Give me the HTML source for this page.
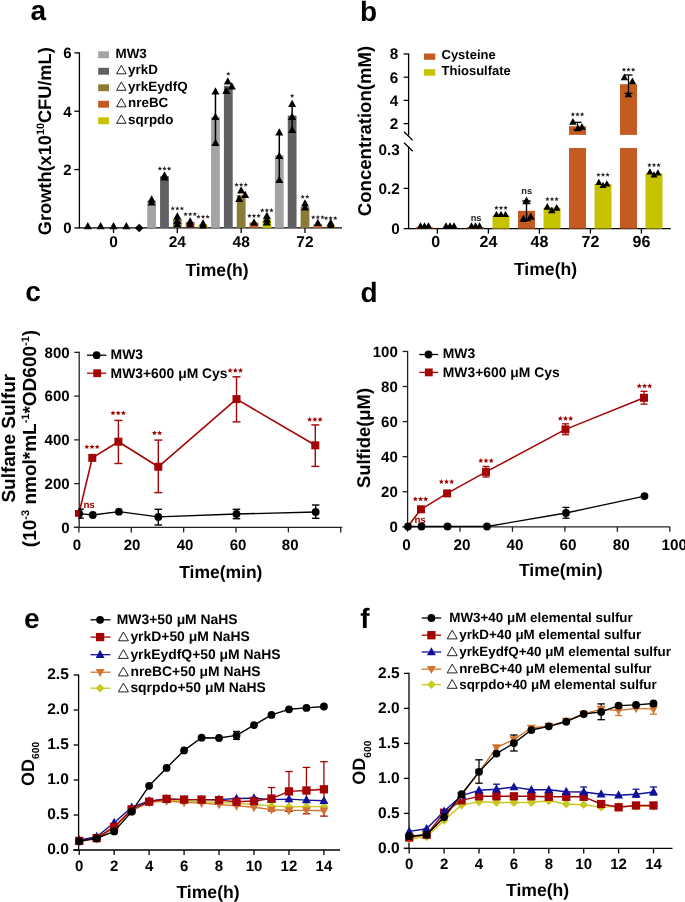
<!DOCTYPE html>
<html><head><meta charset="utf-8"><title>Figure</title>
<style>
html,body{margin:0;padding:0;background:#fff;}
body{width:685px;height:902px;overflow:hidden;}
svg{display:block;will-change:transform;}
text{font-family:"Liberation Sans", sans-serif;text-rendering:geometricPrecision;}
</style></head><body>
<svg width="685" height="902" viewBox="0 0 685 902">
<rect x="0" y="0" width="685" height="902" fill="#fff"/>
<text x="30.5" y="20" font-size="28" text-anchor="start" font-weight="bold" fill="#000">a</text>
<line x1="79.4" y1="52.3" x2="79.4" y2="228.5" stroke="#000" stroke-width="1.3"/>
<line x1="74.4" y1="227.9" x2="79.4" y2="227.9" stroke="#000" stroke-width="1.3"/>
<text x="71.6" y="233.2" font-size="15" text-anchor="end" font-weight="bold" fill="#000">0</text>
<line x1="74.4" y1="169.56" x2="79.4" y2="169.56" stroke="#000" stroke-width="1.3"/>
<text x="71.6" y="174.86" font-size="15" text-anchor="end" font-weight="bold" fill="#000">2</text>
<line x1="74.4" y1="111.22" x2="79.4" y2="111.22" stroke="#000" stroke-width="1.3"/>
<text x="71.6" y="116.52" font-size="15" text-anchor="end" font-weight="bold" fill="#000">4</text>
<line x1="74.4" y1="52.88" x2="79.4" y2="52.88" stroke="#000" stroke-width="1.3"/>
<text x="71.6" y="58.18" font-size="15" text-anchor="end" font-weight="bold" fill="#000">6</text>
<line x1="79.4" y1="227.9" x2="342" y2="227.9" stroke="#000" stroke-width="1.3"/>
<line x1="113.5" y1="227.9" x2="113.5" y2="232.9" stroke="#000" stroke-width="1.3"/>
<text x="113.5" y="247.2" font-size="15.5" text-anchor="middle" font-weight="bold" fill="#000">0</text>
<line x1="177.33" y1="227.9" x2="177.33" y2="232.9" stroke="#000" stroke-width="1.3"/>
<text x="177.33" y="247.2" font-size="15.5" text-anchor="middle" font-weight="bold" fill="#000">24</text>
<line x1="241.16" y1="227.9" x2="241.16" y2="232.9" stroke="#000" stroke-width="1.3"/>
<text x="241.16" y="247.2" font-size="15.5" text-anchor="middle" font-weight="bold" fill="#000">48</text>
<line x1="304.99" y1="227.9" x2="304.99" y2="232.9" stroke="#000" stroke-width="1.3"/>
<text x="304.99" y="247.2" font-size="15.5" text-anchor="middle" font-weight="bold" fill="#000">72</text>
<text x="217" y="276.3" font-size="17.6" text-anchor="middle" font-weight="bold" fill="#000">Time(h)</text>
<text x="51.1" y="141.2" font-size="18.2" text-anchor="middle" font-weight="bold" transform="rotate(-90 51.1 141.2)">Growth(x10<tspan font-size="10.8" dy="-6.7">10</tspan><tspan dy="6.7">CFU/mL)</tspan></text>
<rect x="98.2" y="51.3" width="10.8" height="6.9" fill="#a3a3a8"/>
<text x="115.5" y="57.6" font-size="13.4" text-anchor="start" font-weight="bold" fill="#000">MW3</text>
<rect x="98.2" y="67.8" width="10.8" height="6.9" fill="#616163"/>
<polygon points="116.6,73.8 121.35,65.4 126.1,73.8" fill="none" stroke="#222" stroke-width="1" stroke-linejoin="miter"/>
<text x="128.1" y="74.1" font-size="13.4" text-anchor="start" font-weight="bold" fill="#000">yrkD</text>
<rect x="98.2" y="84.3" width="10.8" height="6.9" fill="#8a7b38"/>
<polygon points="116.6,90.3 121.35,81.9 126.1,90.3" fill="none" stroke="#222" stroke-width="1" stroke-linejoin="miter"/>
<text x="128.1" y="90.6" font-size="13.4" text-anchor="start" font-weight="bold" fill="#000">yrkEydfQ</text>
<rect x="98.2" y="100.8" width="10.8" height="6.9" fill="#c35b22"/>
<polygon points="116.6,106.8 121.35,98.4 126.1,106.8" fill="none" stroke="#222" stroke-width="1" stroke-linejoin="miter"/>
<text x="128.1" y="107.1" font-size="13.4" text-anchor="start" font-weight="bold" fill="#000">nreBC</text>
<rect x="98.2" y="117.3" width="10.8" height="6.9" fill="#c6c200"/>
<polygon points="116.6,123.3 121.35,114.9 126.1,123.3" fill="none" stroke="#222" stroke-width="1" stroke-linejoin="miter"/>
<text x="128.1" y="123.6" font-size="13.4" text-anchor="start" font-weight="bold" fill="#000">sqrpdo</text>
<rect x="147.23" y="200.77" width="8.8" height="27.13" fill="#a3a3a8"/>
<rect x="160.08" y="176.27" width="8.8" height="51.63" fill="#616163"/>
<rect x="172.93" y="219.15" width="8.8" height="8.75" fill="#8a7b38"/>
<rect x="185.78" y="222.07" width="8.8" height="5.83" fill="#c35b22"/>
<rect x="198.63" y="224.4" width="8.8" height="3.5" fill="#c6c200"/>
<rect x="211.06" y="116.76" width="8.8" height="111.14" fill="#a3a3a8"/>
<rect x="223.91" y="85.84" width="8.8" height="142.06" fill="#616163"/>
<rect x="236.76" y="195.23" width="8.8" height="32.67" fill="#8a7b38"/>
<rect x="249.61" y="222.5" width="8.8" height="5.4" fill="#c35b22"/>
<rect x="262.46" y="219.44" width="8.8" height="8.46" fill="#c6c200"/>
<rect x="274.89" y="155.27" width="8.8" height="72.63" fill="#a3a3a8"/>
<rect x="287.74" y="115.6" width="8.8" height="112.3" fill="#616163"/>
<rect x="300.59" y="207.19" width="8.8" height="20.71" fill="#8a7b38"/>
<rect x="313.44" y="224.4" width="8.8" height="3.5" fill="#c35b22"/>
<rect x="326.29" y="225.57" width="8.8" height="2.33" fill="#c6c200"/>
<polygon points="87.8,222.08 83.8,229.28 91.8,229.28" fill="#000"/>
<polygon points="100.65,222.08 96.65,229.28 104.65,229.28" fill="#000"/>
<polygon points="113.5,222.08 109.5,229.28 117.5,229.28" fill="#000"/>
<polygon points="126.35,222.08 122.35,229.28 130.35,229.28" fill="#000"/>
<polygon points="139.2,223.65 143.45,227.9 139.2,232.15 134.95,227.9" fill="#000"/>
<polygon points="151.63,195.18 147.63,202.38 155.63,202.38" fill="#000"/>
<polygon points="151.63,198.18 147.63,205.38 155.63,205.38" fill="#000"/>
<polygon points="164.48,171.18 160.48,178.38 168.48,178.38" fill="#000"/>
<polygon points="164.48,173.18 160.48,180.38 168.48,180.38" fill="#000"/>
<polygon points="177.33,212.18 173.33,219.38 181.33,219.38" fill="#000"/>
<polygon points="177.33,216.68 173.33,223.88 181.33,223.88" fill="#000"/>
<polygon points="177.33,220.18 173.33,227.38 181.33,227.38" fill="#000"/>
<polygon points="190.18,217.18 186.18,224.38 194.18,224.38" fill="#000"/>
<polygon points="190.18,220.18 186.18,227.38 194.18,227.38" fill="#000"/>
<polygon points="203.03,219.18 199.03,226.38 207.03,226.38" fill="#000"/>
<polygon points="203.03,221.18 199.03,228.38 207.03,228.38" fill="#000"/>
<polygon points="159.88,166.3 160.49,167.76 162.07,167.89 160.86,168.92 161.23,170.46 159.88,169.63 158.53,170.46 158.9,168.92 157.69,167.89 159.27,167.76" fill="#2e2424"/>
<polygon points="164.48,166.3 165.09,167.76 166.67,167.89 165.46,168.92 165.83,170.46 164.48,169.63 163.13,170.46 163.5,168.92 162.29,167.89 163.87,167.76" fill="#2e2424"/>
<polygon points="169.08,166.3 169.69,167.76 171.27,167.89 170.06,168.92 170.43,170.46 169.08,169.63 167.73,170.46 168.1,168.92 166.89,167.89 168.47,167.76" fill="#2e2424"/>
<polygon points="172.73,206.2 173.34,207.66 174.92,207.79 173.71,208.82 174.08,210.36 172.73,209.53 171.38,210.36 171.75,208.82 170.54,207.79 172.12,207.66" fill="#2e2424"/>
<polygon points="177.33,206.2 177.94,207.66 179.52,207.79 178.31,208.82 178.68,210.36 177.33,209.53 175.98,210.36 176.35,208.82 175.14,207.79 176.72,207.66" fill="#2e2424"/>
<polygon points="181.93,206.2 182.54,207.66 184.12,207.79 182.91,208.82 183.28,210.36 181.93,209.53 180.58,210.36 180.95,208.82 179.74,207.79 181.32,207.66" fill="#2e2424"/>
<polygon points="185.58,211.9 186.19,213.36 187.77,213.49 186.56,214.52 186.93,216.06 185.58,215.23 184.23,216.06 184.6,214.52 183.39,213.49 184.97,213.36" fill="#2e2424"/>
<polygon points="190.18,211.9 190.79,213.36 192.37,213.49 191.16,214.52 191.53,216.06 190.18,215.23 188.83,216.06 189.2,214.52 187.99,213.49 189.57,213.36" fill="#2e2424"/>
<polygon points="194.78,211.9 195.39,213.36 196.97,213.49 195.76,214.52 196.13,216.06 194.78,215.23 193.43,216.06 193.8,214.52 192.59,213.49 194.17,213.36" fill="#2e2424"/>
<polygon points="198.43,214.5 199.04,215.96 200.62,216.09 199.41,217.12 199.78,218.66 198.43,217.84 197.08,218.66 197.45,217.12 196.24,216.09 197.82,215.96" fill="#2e2424"/>
<polygon points="203.03,214.5 203.64,215.96 205.22,216.09 204.01,217.12 204.38,218.66 203.03,217.84 201.68,218.66 202.05,217.12 200.84,216.09 202.42,215.96" fill="#2e2424"/>
<polygon points="207.63,214.5 208.24,215.96 209.82,216.09 208.61,217.12 208.98,218.66 207.63,217.84 206.28,218.66 206.65,217.12 205.44,216.09 207.02,215.96" fill="#2e2424"/>
<line x1="215.46" y1="91" x2="215.46" y2="142" stroke="#000" stroke-width="1.5"/>
<polygon points="215.46,87.18 211.46,94.38 219.46,94.38" fill="#000"/>
<polygon points="215.46,112.68 211.46,119.88 219.46,119.88" fill="#000"/>
<polygon points="215.46,138.68 211.46,145.88 219.46,145.88" fill="#000"/>
<polygon points="227.81,77.18 223.81,84.38 231.81,84.38" fill="#000"/>
<polygon points="231.81,82.18 227.81,89.38 235.81,89.38" fill="#000"/>
<polygon points="226.31,86.68 222.31,93.88 230.31,93.88" fill="#000"/>
<polygon points="241.16,186.18 237.16,193.38 245.16,193.38" fill="#000"/>
<polygon points="245.16,190.68 241.16,197.88 249.16,197.88" fill="#000"/>
<polygon points="239.16,194.68 235.16,201.88 243.16,201.88" fill="#000"/>
<polygon points="254.01,218.18 250.01,225.38 258.01,225.38" fill="#000"/>
<polygon points="266.86,211.68 262.86,218.88 270.86,218.88" fill="#000"/>
<polygon points="266.86,215.18 262.86,222.38 270.86,222.38" fill="#000"/>
<polygon points="266.86,218.18 262.86,225.38 270.86,225.38" fill="#000"/>
<polygon points="228.31,71.5 228.92,72.96 230.5,73.09 229.29,74.12 229.66,75.66 228.31,74.83 226.96,75.66 227.33,74.12 226.12,73.09 227.7,72.96" fill="#2e2424"/>
<polygon points="236.56,182.5 237.17,183.96 238.75,184.09 237.54,185.12 237.91,186.66 236.56,185.84 235.21,186.66 235.58,185.12 234.37,184.09 235.95,183.96" fill="#2e2424"/>
<polygon points="241.16,182.5 241.77,183.96 243.35,184.09 242.14,185.12 242.51,186.66 241.16,185.84 239.81,186.66 240.18,185.12 238.97,184.09 240.55,183.96" fill="#2e2424"/>
<polygon points="245.76,182.5 246.37,183.96 247.95,184.09 246.74,185.12 247.11,186.66 245.76,185.84 244.41,186.66 244.78,185.12 243.57,184.09 245.15,183.96" fill="#2e2424"/>
<polygon points="249.41,213.6 250.02,215.06 251.6,215.19 250.39,216.22 250.76,217.76 249.41,216.94 248.06,217.76 248.43,216.22 247.22,215.19 248.8,215.06" fill="#2e2424"/>
<polygon points="254.01,213.6 254.62,215.06 256.2,215.19 254.99,216.22 255.36,217.76 254.01,216.94 252.66,217.76 253.03,216.22 251.82,215.19 253.4,215.06" fill="#2e2424"/>
<polygon points="258.61,213.6 259.22,215.06 260.8,215.19 259.59,216.22 259.96,217.76 258.61,216.94 257.26,217.76 257.63,216.22 256.42,215.19 258,215.06" fill="#2e2424"/>
<polygon points="262.26,208.1 262.87,209.56 264.45,209.69 263.24,210.72 263.61,212.26 262.26,211.44 260.91,212.26 261.28,210.72 260.07,209.69 261.65,209.56" fill="#2e2424"/>
<polygon points="266.86,208.1 267.47,209.56 269.05,209.69 267.84,210.72 268.21,212.26 266.86,211.44 265.51,212.26 265.88,210.72 264.67,209.69 266.25,209.56" fill="#2e2424"/>
<polygon points="271.46,208.1 272.07,209.56 273.65,209.69 272.44,210.72 272.81,212.26 271.46,211.44 270.11,212.26 270.48,210.72 269.27,209.69 270.85,209.56" fill="#2e2424"/>
<line x1="279.29" y1="132" x2="279.29" y2="179" stroke="#000" stroke-width="1.5"/>
<polygon points="279.29,128.18 275.29,135.38 283.29,135.38" fill="#000"/>
<polygon points="279.29,151.68 275.29,158.88 283.29,158.88" fill="#000"/>
<polygon points="279.29,175.68 275.29,182.88 283.29,182.88" fill="#000"/>
<line x1="292.14" y1="104" x2="292.14" y2="129" stroke="#000" stroke-width="1.5"/>
<polygon points="292.14,99.68 288.14,106.88 296.14,106.88" fill="#000"/>
<polygon points="292.14,112.68 288.14,119.88 296.14,119.88" fill="#000"/>
<polygon points="292.14,125.68 288.14,132.88 296.14,132.88" fill="#000"/>
<polygon points="304.99,199.18 300.99,206.38 308.99,206.38" fill="#000"/>
<polygon points="304.99,203.18 300.99,210.38 308.99,210.38" fill="#000"/>
<polygon points="317.84,218.68 313.84,225.88 321.84,225.88" fill="#000"/>
<polygon points="330.69,218.68 326.69,225.88 334.69,225.88" fill="#000"/>
<polygon points="330.69,220.68 326.69,227.88 334.69,227.88" fill="#000"/>
<polygon points="292.14,93.5 292.75,94.96 294.33,95.09 293.12,96.12 293.49,97.66 292.14,96.83 290.79,97.66 291.16,96.12 289.95,95.09 291.53,94.96" fill="#2e2424"/>
<polygon points="302.69,194.5 303.3,195.96 304.88,196.09 303.67,197.12 304.04,198.66 302.69,197.84 301.34,198.66 301.71,197.12 300.5,196.09 302.08,195.96" fill="#2e2424"/>
<polygon points="307.29,194.5 307.9,195.96 309.48,196.09 308.27,197.12 308.64,198.66 307.29,197.84 305.94,198.66 306.31,197.12 305.1,196.09 306.68,195.96" fill="#2e2424"/>
<polygon points="313.24,215 313.85,216.46 315.43,216.59 314.22,217.62 314.59,219.16 313.24,218.34 311.89,219.16 312.26,217.62 311.05,216.59 312.63,216.46" fill="#2e2424"/>
<polygon points="317.84,215 318.45,216.46 320.03,216.59 318.82,217.62 319.19,219.16 317.84,218.34 316.49,219.16 316.86,217.62 315.65,216.59 317.23,216.46" fill="#2e2424"/>
<polygon points="322.44,215 323.05,216.46 324.63,216.59 323.42,217.62 323.79,219.16 322.44,218.34 321.09,219.16 321.46,217.62 320.25,216.59 321.83,216.46" fill="#2e2424"/>
<polygon points="326.09,215.9 326.7,217.36 328.28,217.49 327.07,218.52 327.44,220.06 326.09,219.23 324.74,220.06 325.11,218.52 323.9,217.49 325.48,217.36" fill="#2e2424"/>
<polygon points="330.69,215.9 331.3,217.36 332.88,217.49 331.67,218.52 332.04,220.06 330.69,219.23 329.34,220.06 329.71,218.52 328.5,217.49 330.08,217.36" fill="#2e2424"/>
<polygon points="335.29,215.9 335.9,217.36 337.48,217.49 336.27,218.52 336.64,220.06 335.29,219.23 333.94,220.06 334.31,218.52 333.1,217.49 334.68,217.36" fill="#2e2424"/>
<text x="360.1" y="20.5" font-size="28" text-anchor="start" font-weight="bold" fill="#000">b</text>
<line x1="408.6" y1="53.4" x2="408.6" y2="135.2" stroke="#000" stroke-width="1.3"/>
<line x1="408.6" y1="146.5" x2="408.6" y2="229.2" stroke="#000" stroke-width="1.3"/>
<line x1="404.1" y1="131.8" x2="412.7" y2="140.4" stroke="#000" stroke-width="1.3"/>
<line x1="404.1" y1="142.8" x2="412.7" y2="151.3" stroke="#000" stroke-width="1.3"/>
<line x1="403.6" y1="54" x2="408.6" y2="54" stroke="#000" stroke-width="1.3"/>
<text x="398.3" y="59.4" font-size="15.3" text-anchor="end" font-weight="bold" fill="#000">8</text>
<line x1="403.6" y1="77.2" x2="408.6" y2="77.2" stroke="#000" stroke-width="1.3"/>
<text x="398.3" y="82.6" font-size="15.3" text-anchor="end" font-weight="bold" fill="#000">6</text>
<line x1="403.6" y1="100.4" x2="408.6" y2="100.4" stroke="#000" stroke-width="1.3"/>
<text x="398.3" y="105.8" font-size="15.3" text-anchor="end" font-weight="bold" fill="#000">4</text>
<line x1="403.6" y1="123.6" x2="408.6" y2="123.6" stroke="#000" stroke-width="1.3"/>
<text x="398.3" y="129" font-size="15.3" text-anchor="end" font-weight="bold" fill="#000">2</text>
<line x1="403.6" y1="188.4" x2="408.6" y2="188.4" stroke="#000" stroke-width="1.3"/>
<text x="399.8" y="193.8" font-size="15.3" text-anchor="end" font-weight="bold" fill="#000">0.2</text>
<line x1="403.6" y1="228.6" x2="408.6" y2="228.6" stroke="#000" stroke-width="1.3"/>
<text x="399.8" y="234" font-size="15.3" text-anchor="end" font-weight="bold" fill="#000">0</text>
<text x="399.8" y="154.9" font-size="15.3" text-anchor="end" font-weight="bold" fill="#000">0.3</text>
<line x1="408.6" y1="228.6" x2="670.8" y2="228.6" stroke="#000" stroke-width="1.3"/>
<line x1="437.4" y1="228.6" x2="437.4" y2="233.6" stroke="#000" stroke-width="1.3"/>
<text x="435.7" y="247.4" font-size="16" text-anchor="middle" font-weight="bold" fill="#000">0</text>
<line x1="488.4" y1="228.6" x2="488.4" y2="233.6" stroke="#000" stroke-width="1.3"/>
<text x="488.4" y="247.4" font-size="16" text-anchor="middle" font-weight="bold" fill="#000">24</text>
<line x1="539.4" y1="228.6" x2="539.4" y2="233.6" stroke="#000" stroke-width="1.3"/>
<text x="539.4" y="247.4" font-size="16" text-anchor="middle" font-weight="bold" fill="#000">48</text>
<line x1="590.4" y1="228.6" x2="590.4" y2="233.6" stroke="#000" stroke-width="1.3"/>
<text x="590.4" y="247.4" font-size="16" text-anchor="middle" font-weight="bold" fill="#000">72</text>
<line x1="641.4" y1="228.6" x2="641.4" y2="233.6" stroke="#000" stroke-width="1.3"/>
<text x="641.4" y="247.4" font-size="16" text-anchor="middle" font-weight="bold" fill="#000">96</text>
<text x="545.5" y="274.5" font-size="17.6" text-anchor="middle" font-weight="bold" fill="#000">Time(h)</text>
<text x="371.3" y="131" font-size="18.6" text-anchor="middle" font-weight="bold" transform="rotate(-90 371.3 131)">Concentration(mM)</text>
<rect x="424" y="53.5" width="11.3" height="6.3" fill="#c35b22"/>
<text x="441.5" y="59.2" font-size="13" text-anchor="start" font-weight="bold" fill="#000">Cysteine</text>
<rect x="424" y="69.2" width="11.3" height="6.5" fill="#c6c200"/>
<text x="441.5" y="75" font-size="13" text-anchor="start" font-weight="bold" fill="#000">Thiosulfate</text>
<rect x="416" y="227.1" width="17" height="1.5" fill="#c35b22"/>
<polygon points="420.5,222.32 417,228.62 424,228.62" fill="#000"/>
<polygon points="446,222.32 442.5,228.62 449.5,228.62" fill="#000"/>
<polygon points="424.5,222.32 421,228.62 428,228.62" fill="#000"/>
<polygon points="450,222.32 446.5,228.62 453.5,228.62" fill="#000"/>
<polygon points="428.5,222.32 425,228.62 432,228.62" fill="#000"/>
<polygon points="454,222.32 450.5,228.62 457.5,228.62" fill="#000"/>
<rect x="467" y="227.1" width="17" height="1.5" fill="#c35b22"/>
<polygon points="471.5,222.32 468,228.62 475,228.62" fill="#000"/>
<polygon points="475.5,222.32 472,228.62 479,228.62" fill="#000"/>
<polygon points="479.5,222.32 476,228.62 483,228.62" fill="#000"/>
<text x="476.1" y="221.2" font-size="9.3" text-anchor="middle" font-weight="bold" fill="#222">ns</text>
<rect x="492.5" y="215.5" width="17" height="13.1" fill="#c6c200"/>
<polygon points="496.5,210.72 493,217.02 500,217.02" fill="#000"/>
<polygon points="501,210.72 497.5,217.02 504.5,217.02" fill="#000"/>
<polygon points="505.5,210.72 502,217.02 509,217.02" fill="#000"/>
<polygon points="496.4,205.6 497.01,207.06 498.59,207.19 497.38,208.22 497.75,209.76 496.4,208.94 495.05,209.76 495.42,208.22 494.21,207.19 495.79,207.06" fill="#2e2424"/>
<polygon points="501,205.6 501.61,207.06 503.19,207.19 501.98,208.22 502.35,209.76 501,208.94 499.65,209.76 500.02,208.22 498.81,207.19 500.39,207.06" fill="#2e2424"/>
<polygon points="505.6,205.6 506.21,207.06 507.79,207.19 506.58,208.22 506.95,209.76 505.6,208.94 504.25,209.76 504.62,208.22 503.41,207.19 504.99,207.06" fill="#2e2424"/>
<rect x="518" y="210.8" width="17" height="17.8" fill="#c35b22"/>
<line x1="526.5" y1="201" x2="526.5" y2="220.5" stroke="#000" stroke-width="1.4"/>
<line x1="522.25" y1="201" x2="530.75" y2="201" stroke="#000" stroke-width="1.4"/>
<line x1="522.25" y1="220.5" x2="530.75" y2="220.5" stroke="#000" stroke-width="1.4"/>
<polygon points="526.5,196.61 522.25,204.26 530.75,204.26" fill="#000"/>
<polygon points="523.4,214.68 519.4,221.88 527.4,221.88" fill="#000"/>
<polygon points="530.7,212.58 526.7,219.78 534.7,219.78" fill="#000"/>
<text x="526.8" y="194" font-size="9.3" text-anchor="middle" font-weight="bold" fill="#222">ns</text>
<rect x="543.5" y="207.6" width="17" height="21" fill="#c6c200"/>
<polygon points="547.3,202.95 543.55,209.7 551.05,209.7" fill="#000"/>
<polygon points="556.7,204.05 552.95,210.8 560.45,210.8" fill="#000"/>
<polygon points="551.8,206.45 548.05,213.2 555.55,213.2" fill="#000"/>
<polygon points="547.4,196.8 548.01,198.26 549.59,198.39 548.38,199.42 548.75,200.96 547.4,200.13 546.05,200.96 546.42,199.42 545.21,198.39 546.79,198.26" fill="#2e2424"/>
<polygon points="552,196.8 552.61,198.26 554.19,198.39 552.98,199.42 553.35,200.96 552,200.13 550.65,200.96 551.02,199.42 549.81,198.39 551.39,198.26" fill="#2e2424"/>
<polygon points="556.6,196.8 557.21,198.26 558.79,198.39 557.58,199.42 557.95,200.96 556.6,200.13 555.25,200.96 555.62,199.42 554.41,198.39 555.99,198.26" fill="#2e2424"/>
<rect x="569" y="148" width="17" height="80.6" fill="#c35b22"/>
<rect x="569" y="126.2" width="17" height="8.7" fill="#c35b22"/>
<line x1="577.5" y1="122.3" x2="577.5" y2="129.5" stroke="#000" stroke-width="1.3"/>
<line x1="573.5" y1="122.3" x2="581.5" y2="122.3" stroke="#000" stroke-width="1.3"/>
<line x1="573.5" y1="129.5" x2="581.5" y2="129.5" stroke="#000" stroke-width="1.3"/>
<polygon points="572.9,117.95 569.15,124.7 576.65,124.7" fill="#000"/>
<polygon points="577.9,124.45 574.15,131.2 581.65,131.2" fill="#000"/>
<polygon points="581.9,122.95 578.15,129.7 585.65,129.7" fill="#000"/>
<polygon points="572.9,112.1 573.51,113.56 575.09,113.69 573.88,114.72 574.25,116.26 572.9,115.44 571.55,116.26 571.92,114.72 570.71,113.69 572.29,113.56" fill="#2e2424"/>
<polygon points="577.5,112.1 578.11,113.56 579.69,113.69 578.48,114.72 578.85,116.26 577.5,115.44 576.15,116.26 576.52,114.72 575.31,113.69 576.89,113.56" fill="#2e2424"/>
<polygon points="582.1,112.1 582.71,113.56 584.29,113.69 583.08,114.72 583.45,116.26 582.1,115.44 580.75,116.26 581.12,114.72 579.91,113.69 581.49,113.56" fill="#2e2424"/>
<rect x="594.5" y="184" width="17" height="44.6" fill="#c6c200"/>
<polygon points="598.9,178.72 595.4,185.02 602.4,185.02" fill="#000"/>
<polygon points="603,181.72 599.5,188.02 606.5,188.02" fill="#000"/>
<polygon points="606.9,180.22 603.4,186.52 610.4,186.52" fill="#000"/>
<polygon points="598.4,172.5 599.01,173.96 600.59,174.09 599.38,175.12 599.75,176.66 598.4,175.84 597.05,176.66 597.42,175.12 596.21,174.09 597.79,173.96" fill="#2e2424"/>
<polygon points="603,172.5 603.61,173.96 605.19,174.09 603.98,175.12 604.35,176.66 603,175.84 601.65,176.66 602.02,175.12 600.81,174.09 602.39,173.96" fill="#2e2424"/>
<polygon points="607.6,172.5 608.21,173.96 609.79,174.09 608.58,175.12 608.95,176.66 607.6,175.84 606.25,176.66 606.62,175.12 605.41,174.09 606.99,173.96" fill="#2e2424"/>
<rect x="620" y="148" width="17" height="80.6" fill="#c35b22"/>
<rect x="620" y="84.2" width="17" height="50.7" fill="#c35b22"/>
<line x1="628.5" y1="75" x2="628.5" y2="93.4" stroke="#000" stroke-width="1.3"/>
<line x1="624.5" y1="75" x2="632.5" y2="75" stroke="#000" stroke-width="1.3"/>
<line x1="624.5" y1="93.4" x2="632.5" y2="93.4" stroke="#000" stroke-width="1.3"/>
<polygon points="624.4,73.45 620.65,80.2 628.15,80.2" fill="#000"/>
<polygon points="632.4,77.45 628.65,84.2 636.15,84.2" fill="#000"/>
<polygon points="628.4,90.45 624.65,97.2 632.15,97.2" fill="#000"/>
<polygon points="623.9,67.4 624.51,68.86 626.09,68.99 624.88,70.02 625.25,71.56 623.9,70.73 622.55,71.56 622.92,70.02 621.71,68.99 623.29,68.86" fill="#2e2424"/>
<polygon points="628.5,67.4 629.11,68.86 630.69,68.99 629.48,70.02 629.85,71.56 628.5,70.73 627.15,71.56 627.52,70.02 626.31,68.99 627.89,68.86" fill="#2e2424"/>
<polygon points="633.1,67.4 633.71,68.86 635.29,68.99 634.08,70.02 634.45,71.56 633.1,70.73 631.75,71.56 632.12,70.02 630.91,68.99 632.49,68.86" fill="#2e2424"/>
<rect x="645.5" y="173.5" width="17" height="55.1" fill="#c6c200"/>
<polygon points="649.9,168.22 646.4,174.52 653.4,174.52" fill="#000"/>
<polygon points="654,171.22 650.5,177.52 657.5,177.52" fill="#000"/>
<polygon points="657.9,169.22 654.4,175.52 661.4,175.52" fill="#000"/>
<polygon points="649.4,162.8 650.01,164.26 651.59,164.39 650.38,165.42 650.75,166.96 649.4,166.13 648.05,166.96 648.42,165.42 647.21,164.39 648.79,164.26" fill="#2e2424"/>
<polygon points="654,162.8 654.61,164.26 656.19,164.39 654.98,165.42 655.35,166.96 654,166.13 652.65,166.96 653.02,165.42 651.81,164.39 653.39,164.26" fill="#2e2424"/>
<polygon points="658.6,162.8 659.21,164.26 660.79,164.39 659.58,165.42 659.95,166.96 658.6,166.13 657.25,166.96 657.62,165.42 656.41,164.39 657.99,164.26" fill="#2e2424"/>
<text x="25.2" y="301.2" font-size="28" text-anchor="start" font-weight="bold" fill="#000">c</text>
<line x1="79.2" y1="351.8" x2="79.2" y2="528" stroke="#222" stroke-width="1.3"/>
<line x1="74.2" y1="527.4" x2="79.2" y2="527.4" stroke="#222" stroke-width="1.3"/>
<text x="69.6" y="532.7" font-size="15" text-anchor="end" font-weight="bold" fill="#000">0</text>
<line x1="74.2" y1="483.64" x2="79.2" y2="483.64" stroke="#222" stroke-width="1.3"/>
<text x="69.6" y="488.94" font-size="15" text-anchor="end" font-weight="bold" fill="#000">200</text>
<line x1="74.2" y1="439.88" x2="79.2" y2="439.88" stroke="#222" stroke-width="1.3"/>
<text x="69.6" y="445.18" font-size="15" text-anchor="end" font-weight="bold" fill="#000">400</text>
<line x1="74.2" y1="396.12" x2="79.2" y2="396.12" stroke="#222" stroke-width="1.3"/>
<text x="69.6" y="401.42" font-size="15" text-anchor="end" font-weight="bold" fill="#000">600</text>
<line x1="74.2" y1="352.36" x2="79.2" y2="352.36" stroke="#222" stroke-width="1.3"/>
<text x="69.6" y="357.66" font-size="15" text-anchor="end" font-weight="bold" fill="#000">800</text>
<line x1="73.8" y1="527.4" x2="342.2" y2="527.4" stroke="#222" stroke-width="1.3"/>
<line x1="78.9" y1="527.4" x2="78.9" y2="532.4" stroke="#222" stroke-width="1.3"/>
<text x="76.8" y="550.3" font-size="15" text-anchor="middle" font-weight="bold" fill="#000">0</text>
<line x1="131.27" y1="527.4" x2="131.27" y2="532.4" stroke="#222" stroke-width="1.3"/>
<text x="132" y="550.3" font-size="15" text-anchor="middle" font-weight="bold" fill="#000">20</text>
<line x1="183.64" y1="527.4" x2="183.64" y2="532.4" stroke="#222" stroke-width="1.3"/>
<text x="185" y="550.3" font-size="15" text-anchor="middle" font-weight="bold" fill="#000">40</text>
<line x1="236.01" y1="527.4" x2="236.01" y2="532.4" stroke="#222" stroke-width="1.3"/>
<text x="238.1" y="550.3" font-size="15" text-anchor="middle" font-weight="bold" fill="#000">60</text>
<line x1="288.38" y1="527.4" x2="288.38" y2="532.4" stroke="#222" stroke-width="1.3"/>
<text x="290.2" y="550.3" font-size="15" text-anchor="middle" font-weight="bold" fill="#000">80</text>
<line x1="340.75" y1="527.4" x2="340.75" y2="532.4" stroke="#222" stroke-width="1.3"/>
<text x="220.8" y="577.6" font-size="17.5" text-anchor="middle" font-weight="bold" fill="#000">Time(min)</text>
<text x="14.9" y="438.2" font-size="19" text-anchor="middle" font-weight="bold" transform="rotate(-90 14.9 438.2)">Sulfane Sulfur</text>
<text x="35.6" y="438.5" font-size="19" text-anchor="middle" font-weight="bold" transform="rotate(-90 35.6 438.5)">(10<tspan font-size="11" dy="-7">-3</tspan><tspan dy="7"> nmol*mL</tspan><tspan font-size="11" dy="-7">-1</tspan><tspan dy="7">*OD600</tspan><tspan font-size="11" dy="-7">-1</tspan><tspan dy="7">)</tspan></text>
<line x1="87" y1="355.2" x2="106.3" y2="355.2" stroke="#000" stroke-width="1.3"/>
<circle cx="96.6" cy="355.2" r="3.9" fill="#000"/>
<line x1="87" y1="373.2" x2="106.3" y2="373.2" stroke="#a30404" stroke-width="1.3"/>
<rect x="93.3" y="369.3" width="7.8" height="7.8" fill="#a30404"/>
<text x="110.6" y="358.8" font-size="13.9" text-anchor="start" font-weight="bold" fill="#000">MW3</text>
<text x="110.6" y="377.5" font-size="13.9" text-anchor="start" font-weight="bold" fill="#000">MW3+600 μM Cys</text>
<line x1="118.4" y1="420.4" x2="118.4" y2="463.5" stroke="#a30404" stroke-width="1.4"/>
<line x1="114.4" y1="420.4" x2="122.4" y2="420.4" stroke="#a30404" stroke-width="1.4"/>
<line x1="114.4" y1="463.5" x2="122.4" y2="463.5" stroke="#a30404" stroke-width="1.4"/>
<line x1="158.3" y1="440.1" x2="158.3" y2="492.6" stroke="#a30404" stroke-width="1.4"/>
<line x1="154.3" y1="440.1" x2="162.3" y2="440.1" stroke="#a30404" stroke-width="1.4"/>
<line x1="154.3" y1="492.6" x2="162.3" y2="492.6" stroke="#a30404" stroke-width="1.4"/>
<line x1="236.5" y1="376.8" x2="236.5" y2="421.9" stroke="#a30404" stroke-width="1.4"/>
<line x1="232.5" y1="376.8" x2="240.5" y2="376.8" stroke="#a30404" stroke-width="1.4"/>
<line x1="232.5" y1="421.9" x2="240.5" y2="421.9" stroke="#a30404" stroke-width="1.4"/>
<line x1="315.3" y1="424.9" x2="315.3" y2="466.4" stroke="#a30404" stroke-width="1.4"/>
<line x1="311.3" y1="424.9" x2="319.3" y2="424.9" stroke="#a30404" stroke-width="1.4"/>
<line x1="311.3" y1="466.4" x2="319.3" y2="466.4" stroke="#a30404" stroke-width="1.4"/>
<polyline points="79,513.3 92.3,457.9 118.4,441.7 158.3,466.8 236.5,399.1 315.3,445.3" fill="none" stroke="#a30404" stroke-width="1.6" stroke-linejoin="round"/>
<rect x="88.3" y="453.9" width="8" height="8" fill="#a30404"/>
<rect x="114.4" y="437.7" width="8" height="8" fill="#a30404"/>
<rect x="154.3" y="462.8" width="8" height="8" fill="#a30404"/>
<rect x="232.5" y="395.1" width="8" height="8" fill="#a30404"/>
<rect x="311.3" y="441.3" width="8" height="8" fill="#a30404"/>
<rect x="75" y="510" width="4.3" height="6.8" fill="#a30404"/>
<line x1="80.9" y1="509.1" x2="80.9" y2="518.2" stroke="#000" stroke-width="1.4"/>
<line x1="78" y1="509.1" x2="83.8" y2="509.1" stroke="#000" stroke-width="1.4"/>
<line x1="78" y1="518.2" x2="83.8" y2="518.2" stroke="#000" stroke-width="1.4"/>
<line x1="158.3" y1="509.3" x2="158.3" y2="525" stroke="#000" stroke-width="1.4"/>
<line x1="154.55" y1="509.3" x2="162.05" y2="509.3" stroke="#000" stroke-width="1.4"/>
<line x1="154.55" y1="525" x2="162.05" y2="525" stroke="#000" stroke-width="1.4"/>
<line x1="236.5" y1="509.3" x2="236.5" y2="518.7" stroke="#000" stroke-width="1.4"/>
<line x1="232.75" y1="509.3" x2="240.25" y2="509.3" stroke="#000" stroke-width="1.4"/>
<line x1="232.75" y1="518.7" x2="240.25" y2="518.7" stroke="#000" stroke-width="1.4"/>
<line x1="315.7" y1="505" x2="315.7" y2="518.3" stroke="#000" stroke-width="1.4"/>
<line x1="311.95" y1="505" x2="319.45" y2="505" stroke="#000" stroke-width="1.4"/>
<line x1="311.95" y1="518.3" x2="319.45" y2="518.3" stroke="#000" stroke-width="1.4"/>
<polyline points="79.3,513.6 92.8,515 118.9,511.7 158.3,516.9 236.5,514 315.7,512" fill="none" stroke="#000" stroke-width="1.3" stroke-linejoin="round"/>
<path d="M79.3,509.7 A3.9,3.9 0 0 1 79.3,517.5 Z" fill="#000"/>
<circle cx="92.8" cy="515" r="3.9" fill="#000"/>
<circle cx="118.9" cy="511.7" r="3.9" fill="#000"/>
<circle cx="158.3" cy="516.9" r="3.9" fill="#000"/>
<circle cx="236.5" cy="514" r="3.9" fill="#000"/>
<circle cx="315.7" cy="512" r="3.9" fill="#000"/>
<polygon points="86.8,444.2 87.51,445.92 89.37,446.07 87.96,447.28 88.39,449.08 86.8,448.11 85.21,449.08 85.64,447.28 84.23,446.07 86.09,445.92" fill="#a30404"/>
<polygon points="92,444.2 92.71,445.92 94.57,446.07 93.16,447.28 93.59,449.08 92,448.11 90.41,449.08 90.84,447.28 89.43,446.07 91.29,445.92" fill="#a30404"/>
<polygon points="97.2,444.2 97.91,445.92 99.77,446.07 98.36,447.28 98.79,449.08 97.2,448.11 95.61,449.08 96.04,447.28 94.63,446.07 96.49,445.92" fill="#a30404"/>
<polygon points="113,410.4 113.71,412.12 115.57,412.27 114.16,413.48 114.59,415.28 113,414.31 111.41,415.28 111.84,413.48 110.43,412.27 112.29,412.12" fill="#a30404"/>
<polygon points="118.2,410.4 118.91,412.12 120.77,412.27 119.36,413.48 119.79,415.28 118.2,414.31 116.61,415.28 117.04,413.48 115.63,412.27 117.49,412.12" fill="#a30404"/>
<polygon points="123.4,410.4 124.11,412.12 125.97,412.27 124.56,413.48 124.99,415.28 123.4,414.31 121.81,415.28 122.24,413.48 120.83,412.27 122.69,412.12" fill="#a30404"/>
<polygon points="154.4,430.4 155.11,432.12 156.97,432.27 155.56,433.48 155.99,435.28 154.4,434.31 152.81,435.28 153.24,433.48 151.83,432.27 153.69,432.12" fill="#a30404"/>
<polygon points="159.6,430.4 160.31,432.12 162.17,432.27 160.76,433.48 161.19,435.28 159.6,434.31 158.01,435.28 158.44,433.48 157.03,432.27 158.89,432.12" fill="#a30404"/>
<polygon points="230.1,367.8 230.81,369.52 232.67,369.67 231.26,370.88 231.69,372.68 230.1,371.71 228.51,372.68 228.94,370.88 227.53,369.67 229.39,369.52" fill="#a30404"/>
<polygon points="235.3,367.8 236.01,369.52 237.87,369.67 236.46,370.88 236.89,372.68 235.3,371.71 233.71,372.68 234.14,370.88 232.73,369.67 234.59,369.52" fill="#a30404"/>
<polygon points="240.5,367.8 241.21,369.52 243.07,369.67 241.66,370.88 242.09,372.68 240.5,371.71 238.91,372.68 239.34,370.88 237.93,369.67 239.79,369.52" fill="#a30404"/>
<polygon points="309.7,416.8 310.41,418.52 312.27,418.67 310.86,419.88 311.29,421.68 309.7,420.71 308.11,421.68 308.54,419.88 307.13,418.67 308.99,418.52" fill="#a30404"/>
<polygon points="314.9,416.8 315.61,418.52 317.47,418.67 316.06,419.88 316.49,421.68 314.9,420.71 313.31,421.68 313.74,419.88 312.33,418.67 314.19,418.52" fill="#a30404"/>
<polygon points="320.1,416.8 320.81,418.52 322.67,418.67 321.26,419.88 321.69,421.68 320.1,420.71 318.51,421.68 318.94,419.88 317.53,418.67 319.39,418.52" fill="#a30404"/>
<text x="83.4" y="508" font-size="9.8" text-anchor="start" font-weight="bold" fill="#a30404">ns</text>
<text x="360.6" y="301.9" font-size="28" text-anchor="start" font-weight="bold" fill="#000">d</text>
<line x1="407.6" y1="350.9" x2="407.6" y2="527.4" stroke="#222" stroke-width="1.3"/>
<line x1="402.6" y1="526.8" x2="407.6" y2="526.8" stroke="#222" stroke-width="1.3"/>
<text x="397.8" y="532.1" font-size="15" text-anchor="end" font-weight="bold" fill="#000">0</text>
<line x1="402.6" y1="491.73" x2="407.6" y2="491.73" stroke="#222" stroke-width="1.3"/>
<text x="397.8" y="497.03" font-size="15" text-anchor="end" font-weight="bold" fill="#000">20</text>
<line x1="402.6" y1="456.66" x2="407.6" y2="456.66" stroke="#222" stroke-width="1.3"/>
<text x="397.8" y="461.96" font-size="15" text-anchor="end" font-weight="bold" fill="#000">40</text>
<line x1="402.6" y1="421.59" x2="407.6" y2="421.59" stroke="#222" stroke-width="1.3"/>
<text x="397.8" y="426.89" font-size="15" text-anchor="end" font-weight="bold" fill="#000">60</text>
<line x1="402.6" y1="386.52" x2="407.6" y2="386.52" stroke="#222" stroke-width="1.3"/>
<text x="397.8" y="391.82" font-size="15" text-anchor="end" font-weight="bold" fill="#000">80</text>
<line x1="402.6" y1="351.45" x2="407.6" y2="351.45" stroke="#222" stroke-width="1.3"/>
<text x="397.8" y="356.75" font-size="15" text-anchor="end" font-weight="bold" fill="#000">100</text>
<line x1="402.4" y1="526.8" x2="670.1" y2="526.8" stroke="#222" stroke-width="1.3"/>
<line x1="407.6" y1="526.8" x2="407.6" y2="531.8" stroke="#222" stroke-width="1.3"/>
<text x="406.5" y="549.5" font-size="15.3" text-anchor="middle" font-weight="bold" fill="#000">0</text>
<line x1="460.04" y1="526.8" x2="460.04" y2="531.8" stroke="#222" stroke-width="1.3"/>
<text x="461.9" y="549.5" font-size="15.3" text-anchor="middle" font-weight="bold" fill="#000">20</text>
<line x1="512.48" y1="526.8" x2="512.48" y2="531.8" stroke="#222" stroke-width="1.3"/>
<text x="515" y="549.5" font-size="15.3" text-anchor="middle" font-weight="bold" fill="#000">40</text>
<line x1="564.92" y1="526.8" x2="564.92" y2="531.8" stroke="#222" stroke-width="1.3"/>
<text x="567.9" y="549.5" font-size="15.3" text-anchor="middle" font-weight="bold" fill="#000">60</text>
<line x1="617.36" y1="526.8" x2="617.36" y2="531.8" stroke="#222" stroke-width="1.3"/>
<text x="621.2" y="549.5" font-size="15.3" text-anchor="middle" font-weight="bold" fill="#000">80</text>
<line x1="669.8" y1="526.8" x2="669.8" y2="531.8" stroke="#222" stroke-width="1.3"/>
<text x="674.3" y="549.5" font-size="15.3" text-anchor="middle" font-weight="bold" fill="#000">100</text>
<text x="560.8" y="575.5" font-size="17.6" text-anchor="middle" font-weight="bold" fill="#000">Time(min)</text>
<text x="370.3" y="438" font-size="18.4" text-anchor="middle" font-weight="bold" transform="rotate(-90 370.3 438)">Sulfide(μM)</text>
<line x1="419.3" y1="354.5" x2="438.1" y2="354.5" stroke="#000" stroke-width="1.3"/>
<circle cx="428.5" cy="354.5" r="3.9" fill="#000"/>
<line x1="419.3" y1="372.4" x2="438.1" y2="372.4" stroke="#a30404" stroke-width="1.3"/>
<rect x="424.9" y="368.5" width="7.8" height="7.8" fill="#a30404"/>
<text x="442.8" y="357.6" font-size="13.9" text-anchor="start" font-weight="bold" fill="#000">MW3</text>
<text x="442.8" y="376.7" font-size="13.9" text-anchor="start" font-weight="bold" fill="#000">MW3+600 μM Cys</text>
<line x1="486" y1="466.5" x2="486" y2="477" stroke="#a30404" stroke-width="1.3"/>
<line x1="482.5" y1="466.5" x2="489.5" y2="466.5" stroke="#a30404" stroke-width="1.3"/>
<line x1="482.5" y1="477" x2="489.5" y2="477" stroke="#a30404" stroke-width="1.3"/>
<line x1="565.5" y1="423.8" x2="565.5" y2="434.7" stroke="#a30404" stroke-width="1.3"/>
<line x1="562" y1="423.8" x2="569" y2="423.8" stroke="#a30404" stroke-width="1.3"/>
<line x1="562" y1="434.7" x2="569" y2="434.7" stroke="#a30404" stroke-width="1.3"/>
<line x1="644" y1="391.3" x2="644" y2="404.1" stroke="#a30404" stroke-width="1.3"/>
<line x1="640.5" y1="391.3" x2="647.5" y2="391.3" stroke="#a30404" stroke-width="1.3"/>
<line x1="640.5" y1="404.1" x2="647.5" y2="404.1" stroke="#a30404" stroke-width="1.3"/>
<polyline points="407.6,526.8 421,509.3 447.1,493.4 486,471.9 565.5,429.4 644,397.8" fill="none" stroke="#a30404" stroke-width="1.5" stroke-linejoin="round"/>
<rect x="417" y="505.3" width="8" height="8" fill="#a30404"/>
<rect x="443.1" y="489.4" width="8" height="8" fill="#a30404"/>
<rect x="482" y="467.9" width="8" height="8" fill="#a30404"/>
<rect x="561.5" y="425.4" width="8" height="8" fill="#a30404"/>
<rect x="640" y="393.8" width="8" height="8" fill="#a30404"/>
<line x1="566" y1="507.4" x2="566" y2="518.2" stroke="#000" stroke-width="1.3"/>
<line x1="562.5" y1="507.4" x2="569.5" y2="507.4" stroke="#000" stroke-width="1.3"/>
<line x1="562.5" y1="518.2" x2="569.5" y2="518.2" stroke="#000" stroke-width="1.3"/>
<polyline points="408,526.5 421.5,526.5 447.5,526.5 487,526.5 566,513 644.5,496.1" fill="none" stroke="#000" stroke-width="1.3" stroke-linejoin="round"/>
<circle cx="408" cy="526.5" r="3.9" fill="#000"/>
<circle cx="421.5" cy="526.5" r="3.9" fill="#000"/>
<circle cx="447.5" cy="526.5" r="3.9" fill="#000"/>
<circle cx="487" cy="526.5" r="3.9" fill="#000"/>
<circle cx="566" cy="513" r="3.9" fill="#000"/>
<circle cx="644.5" cy="496.1" r="3.9" fill="#000"/>
<polygon points="415.3,496.4 416.01,498.12 417.87,498.27 416.46,499.48 416.89,501.28 415.3,500.31 413.71,501.28 414.14,499.48 412.73,498.27 414.59,498.12" fill="#a30404"/>
<polygon points="420.5,496.4 421.21,498.12 423.07,498.27 421.66,499.48 422.09,501.28 420.5,500.31 418.91,501.28 419.34,499.48 417.93,498.27 419.79,498.12" fill="#a30404"/>
<polygon points="425.7,496.4 426.41,498.12 428.27,498.27 426.86,499.48 427.29,501.28 425.7,500.31 424.11,501.28 424.54,499.48 423.13,498.27 424.99,498.12" fill="#a30404"/>
<polygon points="441.3,479 442.01,480.72 443.87,480.87 442.46,482.08 442.89,483.88 441.3,482.91 439.71,483.88 440.14,482.08 438.73,480.87 440.59,480.72" fill="#a30404"/>
<polygon points="446.5,479 447.21,480.72 449.07,480.87 447.66,482.08 448.09,483.88 446.5,482.91 444.91,483.88 445.34,482.08 443.93,480.87 445.79,480.72" fill="#a30404"/>
<polygon points="451.7,479 452.41,480.72 454.27,480.87 452.86,482.08 453.29,483.88 451.7,482.91 450.11,483.88 450.54,482.08 449.13,480.87 450.99,480.72" fill="#a30404"/>
<polygon points="480.8,458 481.51,459.72 483.37,459.87 481.96,461.08 482.39,462.88 480.8,461.91 479.21,462.88 479.64,461.08 478.23,459.87 480.09,459.72" fill="#a30404"/>
<polygon points="486,458 486.71,459.72 488.57,459.87 487.16,461.08 487.59,462.88 486,461.91 484.41,462.88 484.84,461.08 483.43,459.87 485.29,459.72" fill="#a30404"/>
<polygon points="491.2,458 491.91,459.72 493.77,459.87 492.36,461.08 492.79,462.88 491.2,461.91 489.61,462.88 490.04,461.08 488.63,459.87 490.49,459.72" fill="#a30404"/>
<polygon points="560.3,415.8 561.01,417.52 562.87,417.67 561.46,418.88 561.89,420.68 560.3,419.71 558.71,420.68 559.14,418.88 557.73,417.67 559.59,417.52" fill="#a30404"/>
<polygon points="565.5,415.8 566.21,417.52 568.07,417.67 566.66,418.88 567.09,420.68 565.5,419.71 563.91,420.68 564.34,418.88 562.93,417.67 564.79,417.52" fill="#a30404"/>
<polygon points="570.7,415.8 571.41,417.52 573.27,417.67 571.86,418.88 572.29,420.68 570.7,419.71 569.11,420.68 569.54,418.88 568.13,417.67 569.99,417.52" fill="#a30404"/>
<polygon points="639.3,383.3 640.01,385.02 641.87,385.17 640.46,386.38 640.89,388.18 639.3,387.21 637.71,388.18 638.14,386.38 636.73,385.17 638.59,385.02" fill="#a30404"/>
<polygon points="644.5,383.3 645.21,385.02 647.07,385.17 645.66,386.38 646.09,388.18 644.5,387.21 642.91,388.18 643.34,386.38 641.93,385.17 643.79,385.02" fill="#a30404"/>
<polygon points="649.7,383.3 650.41,385.02 652.27,385.17 650.86,386.38 651.29,388.18 649.7,387.21 648.11,388.18 648.54,386.38 647.13,385.17 648.99,385.02" fill="#a30404"/>
<text x="414.4" y="522.6" font-size="9.8" text-anchor="start" font-weight="bold" fill="#a30404">ns</text>
<text x="24" y="628.2" font-size="28" text-anchor="start" font-weight="bold" fill="#000">e</text>
<line x1="78.6" y1="674.4" x2="78.6" y2="850.6" stroke="#000" stroke-width="1.3"/>
<line x1="73.6" y1="850" x2="78.6" y2="850" stroke="#000" stroke-width="1.3"/>
<text x="68.8" y="854.3" font-size="15.5" text-anchor="end" font-weight="bold" fill="#000">0.0</text>
<line x1="73.6" y1="815" x2="78.6" y2="815" stroke="#000" stroke-width="1.3"/>
<text x="68.8" y="819.3" font-size="15.5" text-anchor="end" font-weight="bold" fill="#000">0.5</text>
<line x1="73.6" y1="780" x2="78.6" y2="780" stroke="#000" stroke-width="1.3"/>
<text x="68.8" y="784.3" font-size="15.5" text-anchor="end" font-weight="bold" fill="#000">1.0</text>
<line x1="73.6" y1="745" x2="78.6" y2="745" stroke="#000" stroke-width="1.3"/>
<text x="68.8" y="749.3" font-size="15.5" text-anchor="end" font-weight="bold" fill="#000">1.5</text>
<line x1="73.6" y1="710" x2="78.6" y2="710" stroke="#000" stroke-width="1.3"/>
<text x="68.8" y="714.3" font-size="15.5" text-anchor="end" font-weight="bold" fill="#000">2.0</text>
<line x1="73.6" y1="675" x2="78.6" y2="675" stroke="#000" stroke-width="1.3"/>
<text x="68.8" y="679.3" font-size="15.5" text-anchor="end" font-weight="bold" fill="#000">2.5</text>
<line x1="73.3" y1="850" x2="340" y2="850" stroke="#000" stroke-width="1.3"/>
<line x1="79.2" y1="850" x2="79.2" y2="855" stroke="#000" stroke-width="1.3"/>
<text x="79.2" y="871.3" font-size="15" text-anchor="middle" font-weight="bold" fill="#000">0</text>
<line x1="114.16" y1="850" x2="114.16" y2="855" stroke="#000" stroke-width="1.3"/>
<text x="114.16" y="871.3" font-size="15" text-anchor="middle" font-weight="bold" fill="#000">2</text>
<line x1="149.12" y1="850" x2="149.12" y2="855" stroke="#000" stroke-width="1.3"/>
<text x="149.12" y="871.3" font-size="15" text-anchor="middle" font-weight="bold" fill="#000">4</text>
<line x1="184.08" y1="850" x2="184.08" y2="855" stroke="#000" stroke-width="1.3"/>
<text x="184.08" y="871.3" font-size="15" text-anchor="middle" font-weight="bold" fill="#000">6</text>
<line x1="219.04" y1="850" x2="219.04" y2="855" stroke="#000" stroke-width="1.3"/>
<text x="219.04" y="871.3" font-size="15" text-anchor="middle" font-weight="bold" fill="#000">8</text>
<line x1="254" y1="850" x2="254" y2="855" stroke="#000" stroke-width="1.3"/>
<text x="254" y="871.3" font-size="15" text-anchor="middle" font-weight="bold" fill="#000">10</text>
<line x1="288.96" y1="850" x2="288.96" y2="855" stroke="#000" stroke-width="1.3"/>
<text x="288.96" y="871.3" font-size="15" text-anchor="middle" font-weight="bold" fill="#000">12</text>
<line x1="323.92" y1="850" x2="323.92" y2="855" stroke="#000" stroke-width="1.3"/>
<text x="323.92" y="871.3" font-size="15" text-anchor="middle" font-weight="bold" fill="#000">14</text>
<text x="208" y="897.7" font-size="17.6" text-anchor="middle" font-weight="bold" fill="#000">Time(h)</text>
<text x="34.2" y="763.9" font-size="18" text-anchor="middle" font-weight="bold" transform="rotate(-90 34.2 763.9)">OD<tspan font-size="10.2" dy="5.3">600</tspan></text>
<line x1="90.5" y1="619.8" x2="110.4" y2="619.8" stroke="#000" stroke-width="1.3"/>
<circle cx="100.1" cy="619.8" r="3.9" fill="#000"/>
<text x="116.8" y="623.8" font-size="13.9" text-anchor="start" font-weight="bold" fill="#000">MW3+50 μM NaHS</text>
<line x1="90.5" y1="637.1" x2="110.4" y2="637.1" stroke="#a30404" stroke-width="1.3"/>
<rect x="95.95" y="632.95" width="8.3" height="8.3" fill="#a30404"/>
<polygon points="118.4,640.8 123.4,632 128.4,640.8" fill="none" stroke="#222" stroke-width="1" stroke-linejoin="miter"/>
<text x="130.4" y="641.1" font-size="13.9" text-anchor="start" font-weight="bold" fill="#000">yrkD+50 μM NaHS</text>
<line x1="90.5" y1="654.7" x2="110.4" y2="654.7" stroke="#10109a" stroke-width="1.3"/>
<polygon points="100.1,649.84 95.6,657.94 104.6,657.94" fill="#10109a"/>
<polygon points="118.4,658.4 123.4,649.6 128.4,658.4" fill="none" stroke="#222" stroke-width="1" stroke-linejoin="miter"/>
<text x="130.4" y="658.7" font-size="13.9" text-anchor="start" font-weight="bold" fill="#000">yrkEydfQ+50 μM NaHS</text>
<line x1="90.5" y1="672.2" x2="110.4" y2="672.2" stroke="#d1742f" stroke-width="1.3"/>
<polygon points="100.1,677.06 95.6,668.96 104.6,668.96" fill="#d1742f"/>
<polygon points="118.4,675.9 123.4,667.1 128.4,675.9" fill="none" stroke="#222" stroke-width="1" stroke-linejoin="miter"/>
<text x="130.4" y="676.2" font-size="13.9" text-anchor="start" font-weight="bold" fill="#000">nreBC+50 μM NaHS</text>
<line x1="90.5" y1="688.2" x2="110.4" y2="688.2" stroke="#c9c820" stroke-width="1.3"/>
<polygon points="100.1,683.8 104.5,688.2 100.1,692.6 95.7,688.2" fill="#c9c820"/>
<polygon points="118.4,691.9 123.4,683.1 128.4,691.9" fill="none" stroke="#222" stroke-width="1" stroke-linejoin="miter"/>
<text x="130.4" y="692.2" font-size="13.9" text-anchor="start" font-weight="bold" fill="#000">sqrpdo+50 μM NaHS</text>
<line x1="271.48" y1="787.5" x2="271.48" y2="811" stroke="#a30404" stroke-width="1.3"/>
<line x1="267.73" y1="787.5" x2="275.23" y2="787.5" stroke="#a30404" stroke-width="1.3"/>
<line x1="267.73" y1="811" x2="275.23" y2="811" stroke="#a30404" stroke-width="1.3"/>
<line x1="288.96" y1="771.5" x2="288.96" y2="811.4" stroke="#a30404" stroke-width="1.3"/>
<line x1="285.21" y1="771.5" x2="292.71" y2="771.5" stroke="#a30404" stroke-width="1.3"/>
<line x1="285.21" y1="811.4" x2="292.71" y2="811.4" stroke="#a30404" stroke-width="1.3"/>
<line x1="306.44" y1="767.4" x2="306.44" y2="813.8" stroke="#a30404" stroke-width="1.3"/>
<line x1="302.69" y1="767.4" x2="310.19" y2="767.4" stroke="#a30404" stroke-width="1.3"/>
<line x1="302.69" y1="813.8" x2="310.19" y2="813.8" stroke="#a30404" stroke-width="1.3"/>
<line x1="323.92" y1="761.7" x2="323.92" y2="816.1" stroke="#a30404" stroke-width="1.3"/>
<line x1="320.17" y1="761.7" x2="327.67" y2="761.7" stroke="#a30404" stroke-width="1.3"/>
<line x1="320.17" y1="816.1" x2="327.67" y2="816.1" stroke="#a30404" stroke-width="1.3"/>
<line x1="236.52" y1="731.41" x2="236.52" y2="739.41" stroke="#000" stroke-width="1.3"/>
<line x1="233.02" y1="731.41" x2="240.02" y2="731.41" stroke="#000" stroke-width="1.3"/>
<line x1="233.02" y1="739.41" x2="240.02" y2="739.41" stroke="#000" stroke-width="1.3"/>
<polyline points="79.2,840.9 96.68,838.1 114.16,826.2 131.64,810.1 149.12,801.7 166.6,800.3 184.08,801 201.56,801.7 219.04,802.4 236.52,803.24 254,804.5 271.48,805.9 288.96,806.74 306.44,806.6 323.92,806.6" fill="none" stroke="#c9c820" stroke-width="1.4" stroke-linejoin="round"/>
<polygon points="79.2,836.5 83.6,840.9 79.2,845.3 74.8,840.9" fill="#c9c820"/>
<polygon points="96.68,833.7 101.08,838.1 96.68,842.5 92.28,838.1" fill="#c9c820"/>
<polygon points="114.16,821.8 118.56,826.2 114.16,830.6 109.76,826.2" fill="#c9c820"/>
<polygon points="131.64,805.7 136.04,810.1 131.64,814.5 127.24,810.1" fill="#c9c820"/>
<polygon points="149.12,797.3 153.52,801.7 149.12,806.1 144.72,801.7" fill="#c9c820"/>
<polygon points="166.6,795.9 171,800.3 166.6,804.7 162.2,800.3" fill="#c9c820"/>
<polygon points="184.08,796.6 188.48,801 184.08,805.4 179.68,801" fill="#c9c820"/>
<polygon points="201.56,797.3 205.96,801.7 201.56,806.1 197.16,801.7" fill="#c9c820"/>
<polygon points="219.04,798 223.44,802.4 219.04,806.8 214.64,802.4" fill="#c9c820"/>
<polygon points="236.52,798.84 240.92,803.24 236.52,807.64 232.12,803.24" fill="#c9c820"/>
<polygon points="254,800.1 258.4,804.5 254,808.9 249.6,804.5" fill="#c9c820"/>
<polygon points="271.48,801.5 275.88,805.9 271.48,810.3 267.08,805.9" fill="#c9c820"/>
<polygon points="288.96,802.34 293.36,806.74 288.96,811.14 284.56,806.74" fill="#c9c820"/>
<polygon points="306.44,802.2 310.84,806.6 306.44,811 302.04,806.6" fill="#c9c820"/>
<polygon points="323.92,802.2 328.32,806.6 323.92,811 319.52,806.6" fill="#c9c820"/>
<polyline points="79.2,841.6 96.68,838.8 114.16,827.6 131.64,810.8 149.12,802.4 166.6,801 184.08,802.4 201.56,803.1 219.04,804.5 236.52,805.9 254,807.3 271.48,809.68 288.96,810.38 306.44,810.38 323.92,810.8" fill="none" stroke="#d1742f" stroke-width="1.4" stroke-linejoin="round"/>
<polygon points="79.2,846.46 74.7,838.36 83.7,838.36" fill="#d1742f"/>
<polygon points="96.68,843.66 92.18,835.56 101.18,835.56" fill="#d1742f"/>
<polygon points="114.16,832.46 109.66,824.36 118.66,824.36" fill="#d1742f"/>
<polygon points="131.64,815.66 127.14,807.56 136.14,807.56" fill="#d1742f"/>
<polygon points="149.12,807.26 144.62,799.16 153.62,799.16" fill="#d1742f"/>
<polygon points="166.6,805.86 162.1,797.76 171.1,797.76" fill="#d1742f"/>
<polygon points="184.08,807.26 179.58,799.16 188.58,799.16" fill="#d1742f"/>
<polygon points="201.56,807.96 197.06,799.86 206.06,799.86" fill="#d1742f"/>
<polygon points="219.04,809.36 214.54,801.26 223.54,801.26" fill="#d1742f"/>
<polygon points="236.52,810.76 232.02,802.66 241.02,802.66" fill="#d1742f"/>
<polygon points="254,812.16 249.5,804.06 258.5,804.06" fill="#d1742f"/>
<polygon points="271.48,814.54 266.98,806.44 275.98,806.44" fill="#d1742f"/>
<polygon points="288.96,815.24 284.46,807.14 293.46,807.14" fill="#d1742f"/>
<polygon points="306.44,815.24 301.94,807.14 310.94,807.14" fill="#d1742f"/>
<polygon points="323.92,815.66 319.42,807.56 328.42,807.56" fill="#d1742f"/>
<polyline points="79.2,840.2 96.68,836.7 114.16,822.7 131.64,807.3 149.12,801 166.6,798.9 184.08,799.6 201.56,799.6 219.04,799.6 236.52,798.55 254,798.2 271.48,799.6 288.96,799.11 306.44,800.09 323.92,800.79" fill="none" stroke="#10109a" stroke-width="1.4" stroke-linejoin="round"/>
<polygon points="79.2,835.34 74.7,843.44 83.7,843.44" fill="#10109a"/>
<polygon points="96.68,831.84 92.18,839.94 101.18,839.94" fill="#10109a"/>
<polygon points="114.16,817.84 109.66,825.94 118.66,825.94" fill="#10109a"/>
<polygon points="131.64,802.44 127.14,810.54 136.14,810.54" fill="#10109a"/>
<polygon points="149.12,796.14 144.62,804.24 153.62,804.24" fill="#10109a"/>
<polygon points="166.6,794.04 162.1,802.14 171.1,802.14" fill="#10109a"/>
<polygon points="184.08,794.74 179.58,802.84 188.58,802.84" fill="#10109a"/>
<polygon points="201.56,794.74 197.06,802.84 206.06,802.84" fill="#10109a"/>
<polygon points="219.04,794.74 214.54,802.84 223.54,802.84" fill="#10109a"/>
<polygon points="236.52,793.69 232.02,801.79 241.02,801.79" fill="#10109a"/>
<polygon points="254,793.34 249.5,801.44 258.5,801.44" fill="#10109a"/>
<polygon points="271.48,794.74 266.98,802.84 275.98,802.84" fill="#10109a"/>
<polygon points="288.96,794.25 284.46,802.35 293.46,802.35" fill="#10109a"/>
<polygon points="306.44,795.23 301.94,803.33 310.94,803.33" fill="#10109a"/>
<polygon points="323.92,795.93 319.42,804.03 328.42,804.03" fill="#10109a"/>
<polyline points="79.2,840.9 96.68,838.1 114.16,826.9 131.64,809.4 149.12,801.7 166.6,798.9 184.08,799.6 201.56,799.6 219.04,800.09 236.52,801.7 254,801 271.48,798.55 288.96,791.41 306.44,790.5 323.92,789.31" fill="none" stroke="#a30404" stroke-width="1.4" stroke-linejoin="round"/>
<rect x="75.05" y="836.75" width="8.3" height="8.3" fill="#a30404"/>
<rect x="92.53" y="833.95" width="8.3" height="8.3" fill="#a30404"/>
<rect x="110.01" y="822.75" width="8.3" height="8.3" fill="#a30404"/>
<rect x="127.49" y="805.25" width="8.3" height="8.3" fill="#a30404"/>
<rect x="144.97" y="797.55" width="8.3" height="8.3" fill="#a30404"/>
<rect x="162.45" y="794.75" width="8.3" height="8.3" fill="#a30404"/>
<rect x="179.93" y="795.45" width="8.3" height="8.3" fill="#a30404"/>
<rect x="197.41" y="795.45" width="8.3" height="8.3" fill="#a30404"/>
<rect x="214.89" y="795.94" width="8.3" height="8.3" fill="#a30404"/>
<rect x="232.37" y="797.55" width="8.3" height="8.3" fill="#a30404"/>
<rect x="249.85" y="796.85" width="8.3" height="8.3" fill="#a30404"/>
<rect x="267.33" y="794.4" width="8.3" height="8.3" fill="#a30404"/>
<rect x="284.81" y="787.26" width="8.3" height="8.3" fill="#a30404"/>
<rect x="302.29" y="786.35" width="8.3" height="8.3" fill="#a30404"/>
<rect x="319.77" y="785.16" width="8.3" height="8.3" fill="#a30404"/>
<polyline points="79.2,841.18 96.68,838.38 114.16,831.38 131.64,811.71 149.12,785.81 166.6,767.89 184.08,750.39 201.56,737.72 219.04,738 236.52,735.41 254,725.12 271.48,714.9 288.96,709.3 306.44,707.9 323.92,706.5" fill="none" stroke="#000" stroke-width="1.4" stroke-linejoin="round"/>
<circle cx="79.2" cy="841.18" r="3.9" fill="#000"/>
<circle cx="96.68" cy="838.38" r="3.9" fill="#000"/>
<circle cx="114.16" cy="831.38" r="3.9" fill="#000"/>
<circle cx="131.64" cy="811.71" r="3.9" fill="#000"/>
<circle cx="149.12" cy="785.81" r="3.9" fill="#000"/>
<circle cx="166.6" cy="767.89" r="3.9" fill="#000"/>
<circle cx="184.08" cy="750.39" r="3.9" fill="#000"/>
<circle cx="201.56" cy="737.72" r="3.9" fill="#000"/>
<circle cx="219.04" cy="738" r="3.9" fill="#000"/>
<circle cx="236.52" cy="735.41" r="3.9" fill="#000"/>
<circle cx="254" cy="725.12" r="3.9" fill="#000"/>
<circle cx="271.48" cy="714.9" r="3.9" fill="#000"/>
<circle cx="288.96" cy="709.3" r="3.9" fill="#000"/>
<circle cx="306.44" cy="707.9" r="3.9" fill="#000"/>
<circle cx="323.92" cy="706.5" r="3.9" fill="#000"/>
<text x="360.2" y="627.8" font-size="28" text-anchor="start" font-weight="bold" fill="#000">f</text>
<line x1="409" y1="672.8" x2="409" y2="849" stroke="#000" stroke-width="1.3"/>
<line x1="404" y1="848.4" x2="409" y2="848.4" stroke="#000" stroke-width="1.3"/>
<text x="399.6" y="852.7" font-size="15.5" text-anchor="end" font-weight="bold" fill="#000">0.0</text>
<line x1="404" y1="813.4" x2="409" y2="813.4" stroke="#000" stroke-width="1.3"/>
<text x="399.6" y="817.7" font-size="15.5" text-anchor="end" font-weight="bold" fill="#000">0.5</text>
<line x1="404" y1="778.4" x2="409" y2="778.4" stroke="#000" stroke-width="1.3"/>
<text x="399.6" y="782.7" font-size="15.5" text-anchor="end" font-weight="bold" fill="#000">1.0</text>
<line x1="404" y1="743.4" x2="409" y2="743.4" stroke="#000" stroke-width="1.3"/>
<text x="399.6" y="747.7" font-size="15.5" text-anchor="end" font-weight="bold" fill="#000">1.5</text>
<line x1="404" y1="708.4" x2="409" y2="708.4" stroke="#000" stroke-width="1.3"/>
<text x="399.6" y="712.7" font-size="15.5" text-anchor="end" font-weight="bold" fill="#000">2.0</text>
<line x1="404" y1="673.4" x2="409" y2="673.4" stroke="#000" stroke-width="1.3"/>
<text x="399.6" y="677.7" font-size="15.5" text-anchor="end" font-weight="bold" fill="#000">2.5</text>
<line x1="403.7" y1="848.4" x2="672.5" y2="848.4" stroke="#000" stroke-width="1.3"/>
<line x1="409.2" y1="848.4" x2="409.2" y2="853.4" stroke="#000" stroke-width="1.3"/>
<text x="409.2" y="868.7" font-size="15" text-anchor="middle" font-weight="bold" fill="#000">0</text>
<line x1="444.1" y1="848.4" x2="444.1" y2="853.4" stroke="#000" stroke-width="1.3"/>
<text x="444.1" y="868.7" font-size="15" text-anchor="middle" font-weight="bold" fill="#000">2</text>
<line x1="479" y1="848.4" x2="479" y2="853.4" stroke="#000" stroke-width="1.3"/>
<text x="479" y="868.7" font-size="15" text-anchor="middle" font-weight="bold" fill="#000">4</text>
<line x1="513.9" y1="848.4" x2="513.9" y2="853.4" stroke="#000" stroke-width="1.3"/>
<text x="513.9" y="868.7" font-size="15" text-anchor="middle" font-weight="bold" fill="#000">6</text>
<line x1="548.8" y1="848.4" x2="548.8" y2="853.4" stroke="#000" stroke-width="1.3"/>
<text x="548.8" y="868.7" font-size="15" text-anchor="middle" font-weight="bold" fill="#000">8</text>
<line x1="583.7" y1="848.4" x2="583.7" y2="853.4" stroke="#000" stroke-width="1.3"/>
<text x="583.7" y="868.7" font-size="15" text-anchor="middle" font-weight="bold" fill="#000">10</text>
<line x1="618.6" y1="848.4" x2="618.6" y2="853.4" stroke="#000" stroke-width="1.3"/>
<text x="618.6" y="868.7" font-size="15" text-anchor="middle" font-weight="bold" fill="#000">12</text>
<line x1="653.5" y1="848.4" x2="653.5" y2="853.4" stroke="#000" stroke-width="1.3"/>
<text x="653.5" y="868.7" font-size="15" text-anchor="middle" font-weight="bold" fill="#000">14</text>
<text x="537.6" y="895.5" font-size="17.6" text-anchor="middle" font-weight="bold" fill="#000">Time(h)</text>
<text x="365.3" y="762.7" font-size="18" text-anchor="middle" font-weight="bold" transform="rotate(-90 365.3 762.7)">OD<tspan font-size="10.2" dy="5.3">600</tspan></text>
<line x1="421.7" y1="618" x2="441.2" y2="618" stroke="#000" stroke-width="1.3"/>
<circle cx="431.4" cy="618" r="3.9" fill="#000"/>
<text x="449.3" y="622" font-size="13.4" text-anchor="start" font-weight="bold" fill="#000">MW3+40 μM elemental sulfur</text>
<line x1="421.7" y1="635.2" x2="441.2" y2="635.2" stroke="#a30404" stroke-width="1.3"/>
<rect x="427.25" y="631.05" width="8.3" height="8.3" fill="#a30404"/>
<polygon points="447.2,638.9 452.2,630.1 457.2,638.9" fill="none" stroke="#222" stroke-width="1" stroke-linejoin="miter"/>
<text x="459.2" y="639.2" font-size="13.4" text-anchor="start" font-weight="bold" fill="#000">yrkD+40 μM elemental sulfur</text>
<line x1="421.7" y1="652" x2="441.2" y2="652" stroke="#10109a" stroke-width="1.3"/>
<polygon points="431.4,647.14 426.9,655.24 435.9,655.24" fill="#10109a"/>
<polygon points="447.2,655.7 452.2,646.9 457.2,655.7" fill="none" stroke="#222" stroke-width="1" stroke-linejoin="miter"/>
<text x="459.2" y="656" font-size="13.4" text-anchor="start" font-weight="bold" fill="#000">yrkEydfQ+40 μM elemental sulfur</text>
<line x1="421.7" y1="669.2" x2="441.2" y2="669.2" stroke="#d1742f" stroke-width="1.3"/>
<polygon points="431.4,674.06 426.9,665.96 435.9,665.96" fill="#d1742f"/>
<polygon points="447.2,672.9 452.2,664.1 457.2,672.9" fill="none" stroke="#222" stroke-width="1" stroke-linejoin="miter"/>
<text x="459.2" y="673.2" font-size="13.4" text-anchor="start" font-weight="bold" fill="#000">nreBC+40 μM elemental sulfur</text>
<line x1="421.7" y1="684.6" x2="441.2" y2="684.6" stroke="#c9c820" stroke-width="1.3"/>
<polygon points="431.4,680.2 435.8,684.6 431.4,689 427,684.6" fill="#c9c820"/>
<polygon points="447.2,688.3 452.2,679.5 457.2,688.3" fill="none" stroke="#222" stroke-width="1" stroke-linejoin="miter"/>
<text x="459.2" y="688.6" font-size="13.4" text-anchor="start" font-weight="bold" fill="#000">sqrpdo+40 μM elemental sulfur</text>
<line x1="479" y1="759.8" x2="479" y2="783.2" stroke="#000" stroke-width="1.3"/>
<line x1="475.25" y1="759.8" x2="482.75" y2="759.8" stroke="#000" stroke-width="1.3"/>
<line x1="475.25" y1="783.2" x2="482.75" y2="783.2" stroke="#000" stroke-width="1.3"/>
<line x1="513.9" y1="735" x2="513.9" y2="751" stroke="#000" stroke-width="1.3"/>
<line x1="510.15" y1="735" x2="517.65" y2="735" stroke="#000" stroke-width="1.3"/>
<line x1="510.15" y1="751" x2="517.65" y2="751" stroke="#000" stroke-width="1.3"/>
<line x1="601.15" y1="703.9" x2="601.15" y2="719.7" stroke="#000" stroke-width="1.3"/>
<line x1="597.4" y1="703.9" x2="604.9" y2="703.9" stroke="#000" stroke-width="1.3"/>
<line x1="597.4" y1="719.7" x2="604.9" y2="719.7" stroke="#000" stroke-width="1.3"/>
<line x1="618.6" y1="707.5" x2="618.6" y2="715.5" stroke="#d1742f" stroke-width="1.3"/>
<line x1="615.1" y1="707.5" x2="622.1" y2="707.5" stroke="#d1742f" stroke-width="1.3"/>
<line x1="615.1" y1="715.5" x2="622.1" y2="715.5" stroke="#d1742f" stroke-width="1.3"/>
<line x1="653.5" y1="706.1" x2="653.5" y2="714.1" stroke="#d1742f" stroke-width="1.3"/>
<line x1="650" y1="706.1" x2="657" y2="706.1" stroke="#d1742f" stroke-width="1.3"/>
<line x1="650" y1="714.1" x2="657" y2="714.1" stroke="#d1742f" stroke-width="1.3"/>
<line x1="496.45" y1="784.18" x2="496.45" y2="792.18" stroke="#10109a" stroke-width="1.3"/>
<line x1="492.95" y1="784.18" x2="499.95" y2="784.18" stroke="#10109a" stroke-width="1.3"/>
<line x1="492.95" y1="792.18" x2="499.95" y2="792.18" stroke="#10109a" stroke-width="1.3"/>
<line x1="583.7" y1="786.98" x2="583.7" y2="794.98" stroke="#10109a" stroke-width="1.3"/>
<line x1="580.2" y1="786.98" x2="587.2" y2="786.98" stroke="#10109a" stroke-width="1.3"/>
<line x1="580.2" y1="794.98" x2="587.2" y2="794.98" stroke="#10109a" stroke-width="1.3"/>
<line x1="636.05" y1="789.22" x2="636.05" y2="797.22" stroke="#10109a" stroke-width="1.3"/>
<line x1="632.55" y1="789.22" x2="639.55" y2="789.22" stroke="#10109a" stroke-width="1.3"/>
<line x1="632.55" y1="797.22" x2="639.55" y2="797.22" stroke="#10109a" stroke-width="1.3"/>
<line x1="653.5" y1="786.98" x2="653.5" y2="794.98" stroke="#10109a" stroke-width="1.3"/>
<line x1="650" y1="786.98" x2="657" y2="786.98" stroke="#10109a" stroke-width="1.3"/>
<line x1="650" y1="794.98" x2="657" y2="794.98" stroke="#10109a" stroke-width="1.3"/>
<polyline points="409.2,839.02 426.65,836.92 444.1,820.4 461.55,805.07 479,801.78 496.45,802.48 513.9,802.48 531.35,802.48 548.8,800.8 566.25,804.02 583.7,804.72 601.15,807.1 618.6,806.4 636.05,806.4 653.5,806.4" fill="none" stroke="#c9c820" stroke-width="1.4" stroke-linejoin="round"/>
<polygon points="409.2,834.62 413.6,839.02 409.2,843.42 404.8,839.02" fill="#c9c820"/>
<polygon points="426.65,832.52 431.05,836.92 426.65,841.32 422.25,836.92" fill="#c9c820"/>
<polygon points="444.1,816 448.5,820.4 444.1,824.8 439.7,820.4" fill="#c9c820"/>
<polygon points="461.55,800.67 465.95,805.07 461.55,809.47 457.15,805.07" fill="#c9c820"/>
<polygon points="479,797.38 483.4,801.78 479,806.18 474.6,801.78" fill="#c9c820"/>
<polygon points="496.45,798.08 500.85,802.48 496.45,806.88 492.05,802.48" fill="#c9c820"/>
<polygon points="513.9,798.08 518.3,802.48 513.9,806.88 509.5,802.48" fill="#c9c820"/>
<polygon points="531.35,798.08 535.75,802.48 531.35,806.88 526.95,802.48" fill="#c9c820"/>
<polygon points="548.8,796.4 553.2,800.8 548.8,805.2 544.4,800.8" fill="#c9c820"/>
<polygon points="566.25,799.62 570.65,804.02 566.25,808.42 561.85,804.02" fill="#c9c820"/>
<polygon points="583.7,800.32 588.1,804.72 583.7,809.12 579.3,804.72" fill="#c9c820"/>
<polygon points="601.15,802.7 605.55,807.1 601.15,811.5 596.75,807.1" fill="#c9c820"/>
<polygon points="618.6,802 623,806.4 618.6,810.8 614.2,806.4" fill="#c9c820"/>
<polygon points="636.05,802 640.45,806.4 636.05,810.8 631.65,806.4" fill="#c9c820"/>
<polygon points="653.5,802 657.9,806.4 653.5,810.8 649.1,806.4" fill="#c9c820"/>
<polyline points="409.2,837.48 426.65,834.68 444.1,812.77 461.55,800.31 479,796.32 496.45,796.32 513.9,796.32 531.35,796.32 548.8,796.81 566.25,796.81 583.7,796.81 601.15,804.02 618.6,807.31 636.05,805.49 653.5,805.49" fill="none" stroke="#a30404" stroke-width="1.4" stroke-linejoin="round"/>
<rect x="405.05" y="833.33" width="8.3" height="8.3" fill="#a30404"/>
<rect x="422.5" y="830.53" width="8.3" height="8.3" fill="#a30404"/>
<rect x="439.95" y="808.62" width="8.3" height="8.3" fill="#a30404"/>
<rect x="457.4" y="796.16" width="8.3" height="8.3" fill="#a30404"/>
<rect x="474.85" y="792.17" width="8.3" height="8.3" fill="#a30404"/>
<rect x="492.3" y="792.17" width="8.3" height="8.3" fill="#a30404"/>
<rect x="509.75" y="792.17" width="8.3" height="8.3" fill="#a30404"/>
<rect x="527.2" y="792.17" width="8.3" height="8.3" fill="#a30404"/>
<rect x="544.65" y="792.66" width="8.3" height="8.3" fill="#a30404"/>
<rect x="562.1" y="792.66" width="8.3" height="8.3" fill="#a30404"/>
<rect x="579.55" y="792.66" width="8.3" height="8.3" fill="#a30404"/>
<rect x="597" y="799.87" width="8.3" height="8.3" fill="#a30404"/>
<rect x="614.45" y="803.16" width="8.3" height="8.3" fill="#a30404"/>
<rect x="631.9" y="801.34" width="8.3" height="8.3" fill="#a30404"/>
<rect x="649.35" y="801.34" width="8.3" height="8.3" fill="#a30404"/>
<polyline points="409.2,831.39 426.65,828.8 444.1,811.3 461.55,795.69 479,790.3 496.45,789.18 513.9,787.08 531.35,789.74 548.8,789.81 566.25,791.7 583.7,791.98 601.15,794.22 618.6,795.2 636.05,794.22 653.5,791.98" fill="none" stroke="#10109a" stroke-width="1.4" stroke-linejoin="round"/>
<polygon points="409.2,826.53 404.7,834.63 413.7,834.63" fill="#10109a"/>
<polygon points="426.65,823.94 422.15,832.04 431.15,832.04" fill="#10109a"/>
<polygon points="444.1,806.44 439.6,814.54 448.6,814.54" fill="#10109a"/>
<polygon points="461.55,790.83 457.05,798.93 466.05,798.93" fill="#10109a"/>
<polygon points="479,785.44 474.5,793.54 483.5,793.54" fill="#10109a"/>
<polygon points="496.45,784.32 491.95,792.42 500.95,792.42" fill="#10109a"/>
<polygon points="513.9,782.22 509.4,790.32 518.4,790.32" fill="#10109a"/>
<polygon points="531.35,784.88 526.85,792.98 535.85,792.98" fill="#10109a"/>
<polygon points="548.8,784.95 544.3,793.05 553.3,793.05" fill="#10109a"/>
<polygon points="566.25,786.84 561.75,794.94 570.75,794.94" fill="#10109a"/>
<polygon points="583.7,787.12 579.2,795.22 588.2,795.22" fill="#10109a"/>
<polygon points="601.15,789.36 596.65,797.46 605.65,797.46" fill="#10109a"/>
<polygon points="618.6,790.34 614.1,798.44 623.1,798.44" fill="#10109a"/>
<polygon points="636.05,789.36 631.55,797.46 640.55,797.46" fill="#10109a"/>
<polygon points="653.5,787.12 649,795.22 658,795.22" fill="#10109a"/>
<polyline points="409.2,836.5 426.65,835.1 444.1,817.6 461.55,795.2 479,772.1 496.45,747.6 513.9,739.41 531.35,728 548.8,725.9 566.25,721 583.7,714 601.15,709.1 618.6,710.5 636.05,708.4 653.5,709.1" fill="none" stroke="#d1742f" stroke-width="1.4" stroke-linejoin="round"/>
<polygon points="409.2,841.36 404.7,833.26 413.7,833.26" fill="#d1742f"/>
<polygon points="426.65,839.96 422.15,831.86 431.15,831.86" fill="#d1742f"/>
<polygon points="444.1,822.46 439.6,814.36 448.6,814.36" fill="#d1742f"/>
<polygon points="461.55,800.06 457.05,791.96 466.05,791.96" fill="#d1742f"/>
<polygon points="479,776.96 474.5,768.86 483.5,768.86" fill="#d1742f"/>
<polygon points="496.45,752.46 491.95,744.36 500.95,744.36" fill="#d1742f"/>
<polygon points="513.9,744.27 509.4,736.17 518.4,736.17" fill="#d1742f"/>
<polygon points="531.35,732.86 526.85,724.76 535.85,724.76" fill="#d1742f"/>
<polygon points="548.8,730.76 544.3,722.66 553.3,722.66" fill="#d1742f"/>
<polygon points="566.25,725.86 561.75,717.76 570.75,717.76" fill="#d1742f"/>
<polygon points="583.7,718.86 579.2,710.76 588.2,710.76" fill="#d1742f"/>
<polygon points="601.15,713.96 596.65,705.86 605.65,705.86" fill="#d1742f"/>
<polygon points="618.6,715.36 614.1,707.26 623.1,707.26" fill="#d1742f"/>
<polygon points="636.05,713.26 631.55,705.16 640.55,705.16" fill="#d1742f"/>
<polygon points="653.5,713.96 649,705.86 658,705.86" fill="#d1742f"/>
<polyline points="409.2,836.22 426.65,834.68 444.1,817.11 461.55,794.22 479,771.82 496.45,753.62 513.9,743.12 531.35,730.03 548.8,726.32 566.25,721.7 583.7,714 601.15,711.9 618.6,705.6 636.05,704.9 653.5,703.5" fill="none" stroke="#000" stroke-width="1.4" stroke-linejoin="round"/>
<circle cx="409.2" cy="836.22" r="3.9" fill="#000"/>
<circle cx="426.65" cy="834.68" r="3.9" fill="#000"/>
<circle cx="444.1" cy="817.11" r="3.9" fill="#000"/>
<circle cx="461.55" cy="794.22" r="3.9" fill="#000"/>
<circle cx="479" cy="771.82" r="3.9" fill="#000"/>
<circle cx="496.45" cy="753.62" r="3.9" fill="#000"/>
<circle cx="513.9" cy="743.12" r="3.9" fill="#000"/>
<circle cx="531.35" cy="730.03" r="3.9" fill="#000"/>
<circle cx="548.8" cy="726.32" r="3.9" fill="#000"/>
<circle cx="566.25" cy="721.7" r="3.9" fill="#000"/>
<circle cx="583.7" cy="714" r="3.9" fill="#000"/>
<circle cx="601.15" cy="711.9" r="3.9" fill="#000"/>
<circle cx="618.6" cy="705.6" r="3.9" fill="#000"/>
<circle cx="636.05" cy="704.9" r="3.9" fill="#000"/>
<circle cx="653.5" cy="703.5" r="3.9" fill="#000"/>
</svg>
</body></html>
